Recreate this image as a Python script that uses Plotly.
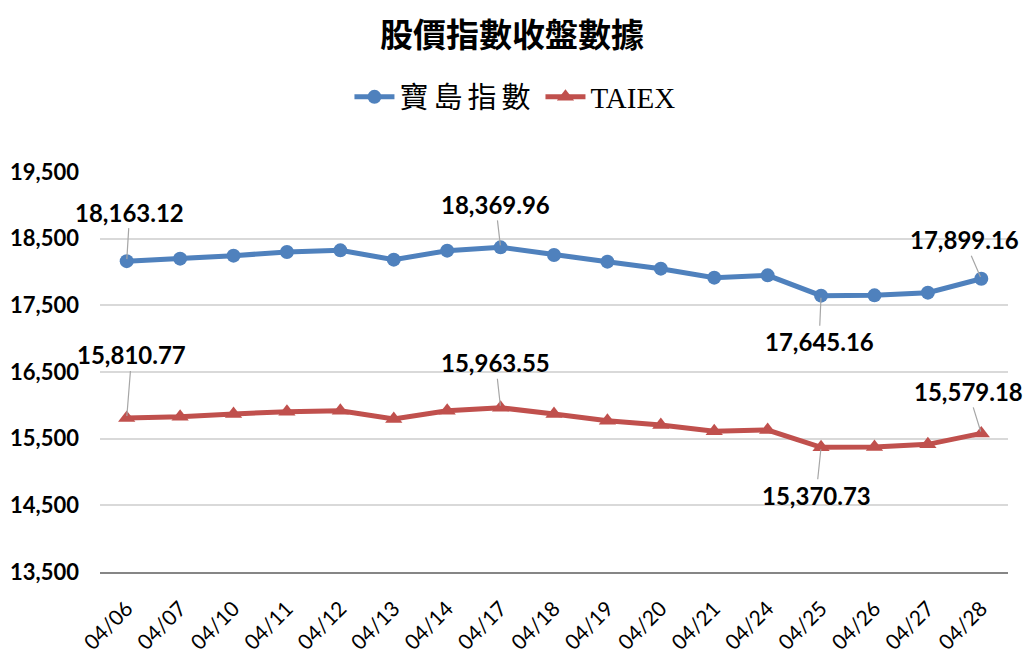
import plotly.graph_objects as go

dates = ["04/06", "04/07", "04/10", "04/11", "04/12", "04/13", "04/14", "04/17", "04/18",
         "04/19", "04/20", "04/21", "04/24", "04/25", "04/26", "04/27", "04/28"]
formosa = [18163.12, 18200, 18245, 18300, 18325, 18185, 18320, 18369.96, 18255,
           18155, 18050, 17915, 17950, 17645.16, 17650, 17690, 17899.16]
taiex = [15810.77, 15830, 15870, 15905, 15920, 15795, 15920, 15963.55, 15870,
         15770, 15705, 15610, 15630, 15370.73, 15375, 15415, 15579.18]
y_ticks = [13500, 14500, 15500, 16500, 17500, 18500, 19500]

BLUE = "#4F81BD"
RED = "#C0504D"

fig = go.Figure()
fig.add_trace(go.Scatter(x=dates, y=formosa, name='<span style="letter-spacing:5px">寶島指數</span>',
                         mode="lines+markers",
                         line=dict(color=BLUE, width=5),
                         marker=dict(symbol="circle", size=14, color=BLUE)))
fig.add_trace(go.Scatter(x=dates, y=taiex, name="TAIEX", mode="lines+markers",
                         line=dict(color=RED, width=5),
                         marker=dict(symbol="triangle-up", size=15, color=RED)))

# labelled points: (series, index, ax, ay)
labels = [(formosa, 0, 3, -49), (formosa, 7, -5, -43), (formosa, 16, -17, -39), (formosa, 13, -2, 46),
          (taiex, 0, 5, -63), (taiex, 7, -5, -45), (taiex, 16, -13, -42), (taiex, 13, -5, 48)]
for series, i, ax, ay in labels:
    fig.add_annotation(x=dates[i], y=series[i], xref="x", yref="y",
                       text=f"{series[i]:,.2f}", showarrow=True, arrowhead=0,
                       arrowwidth=1.2, arrowcolor="#A6A6A6", ax=ax, ay=ay, standoff=2,
                       font=dict(family="Lato", size=24, color="black", weight="bold"))

fig.update_layout(
    width=1033, height=654,
    margin=dict(l=92, r=33, t=164, b=90),
    paper_bgcolor="white", plot_bgcolor="white",
    title=dict(text="<b>股價指數收盤數據</b>",
               x=0.488, xanchor="center", xref="container",
               y=1 - 27 / 654, yref="container", yanchor="middle",
               font=dict(family="Noto Sans CJK TC", size=33, color="black")),
    legend=dict(orientation="h", x=0.457, xanchor="center",
                y=1.1875, yanchor="middle",
                font=dict(family="Liberation Serif, Noto Sans CJK TC", size=29, color="black"),
                itemwidth=40),
    showlegend=True,
)
fig.update_xaxes(type="category", range=[-0.5, 16.5], tickangle=-45, automargin=False,
                 showgrid=False, showline=True, linecolor="#868686", linewidth=2,
                 ticks="", ticklabelstandoff=14,
                 tickfont=dict(family="Lato", size=21, color="black"))
fig.update_yaxes(range=[13500, 19500], tickvals=y_ticks, tickformat=",", automargin=False,
                 showgrid=True, gridcolor="#D9D9D9", gridwidth=1.5,
                 zeroline=False, showline=False, ticks="", ticklabelstandoff=20,
                 tickfont=dict(family="Lato", size=22, color="black", weight="bold"))

fig.write_html("out.html")
